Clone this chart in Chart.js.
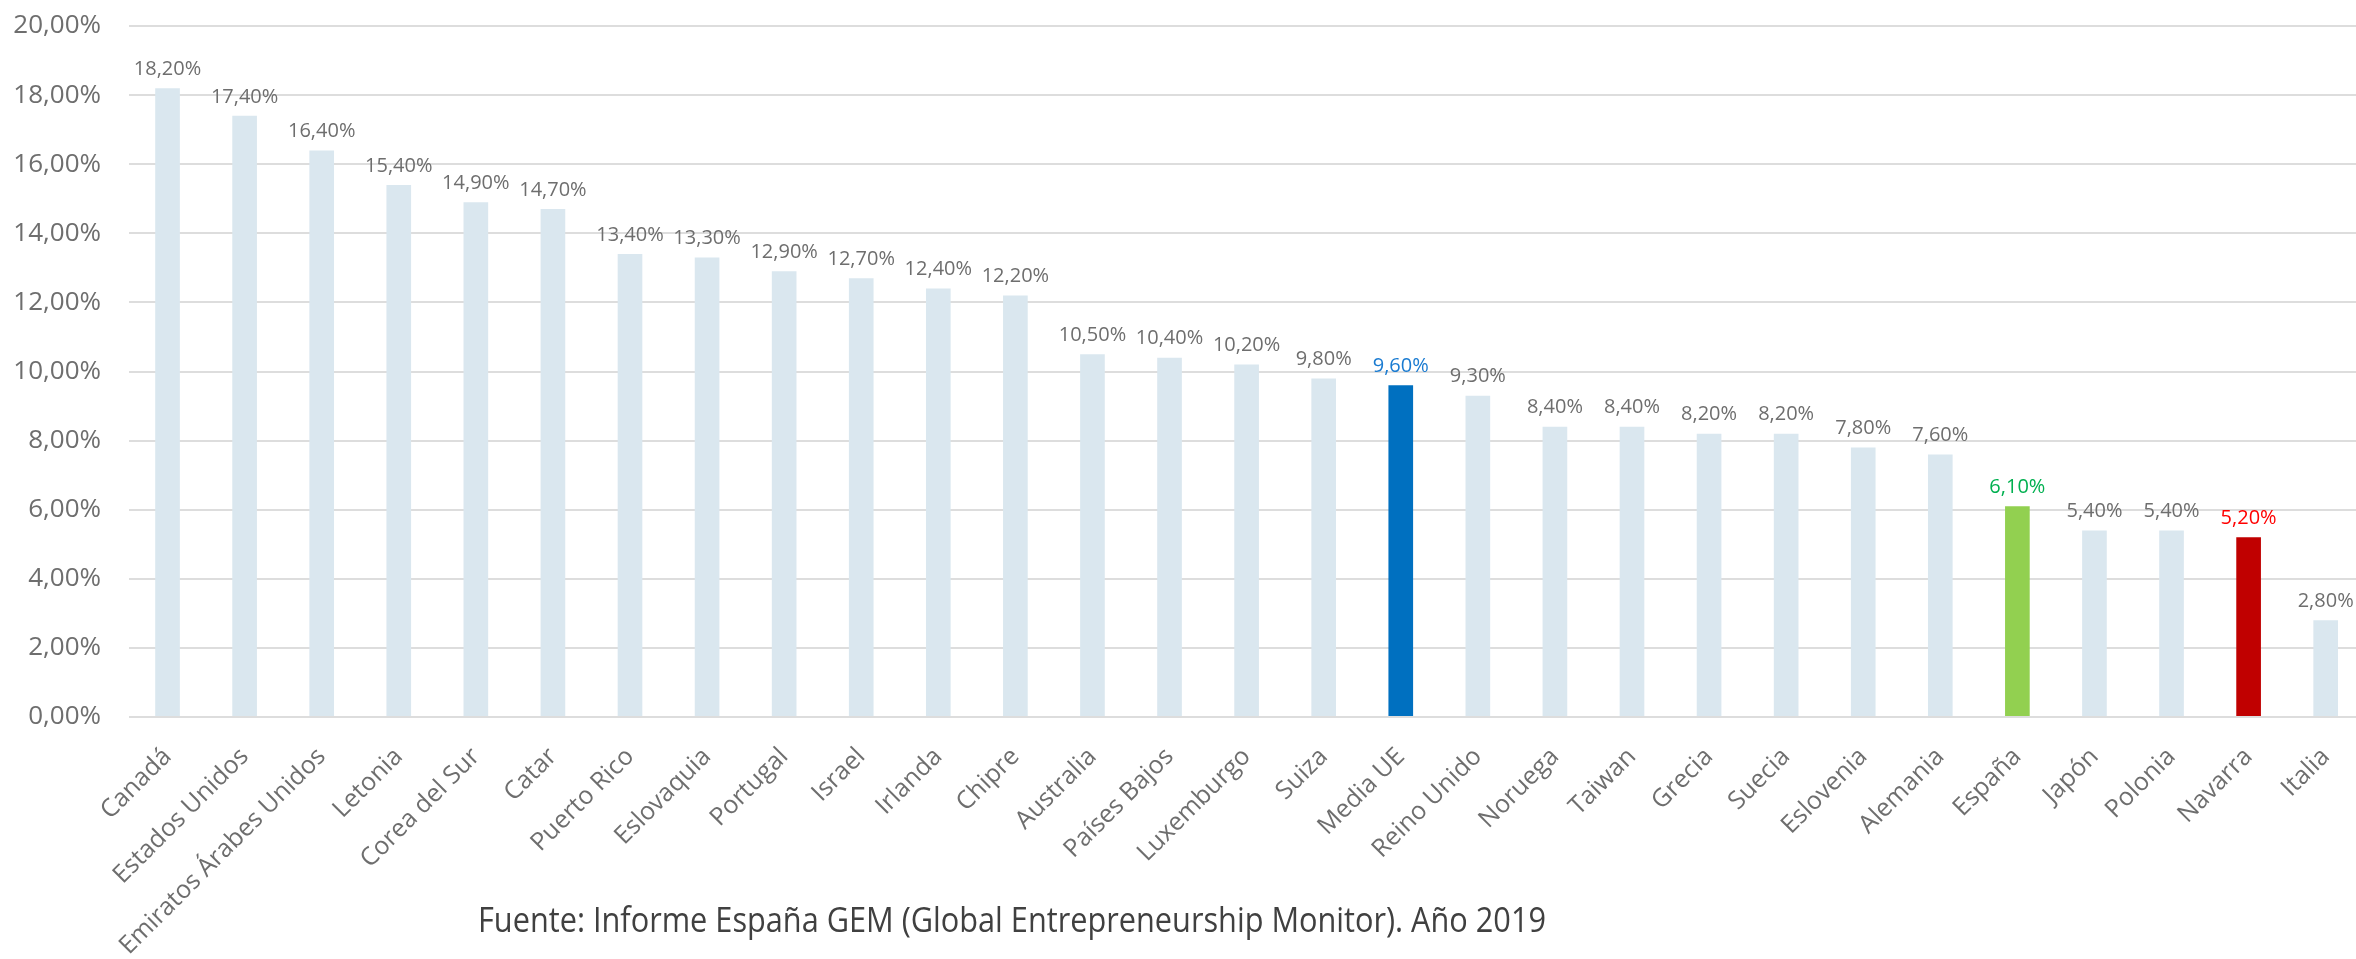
<!DOCTYPE html>
<html>
<head>
<meta charset="utf-8">
<script src="https://cdn.jsdelivr.net/npm/chart.js@4/dist/chart.umd.min.js"></script>
<style>
  html, body { margin: 0; padding: 0; background: #fff; overflow: hidden; }
  #wrap { position: relative; width: 2356px; height: 959px; overflow: hidden; }
</style>
</head>
<body>
<div id="wrap">
  <canvas id="gemChart" width="2372" height="959"></canvas>
</div>
<script>
// datos: tasa TEA por país (Informe GEM 2019)
const paises = ['Canadá', 'Estados Unidos', 'Emiratos Árabes Unidos', 'Letonia', 'Corea del Sur', 'Catar',
  'Puerto Rico', 'Eslovaquia', 'Portugal', 'Israel', 'Irlanda', 'Chipre', 'Australia', 'Países Bajos',
  'Luxemburgo', 'Suiza', 'Media UE', 'Reino Unido', 'Noruega', 'Taiwan', 'Grecia', 'Suecia', 'Eslovenia',
  'Alemania', 'España', 'Japón', 'Polonia', 'Navarra', 'Italia'];
const valores = [18.2, 17.4, 16.4, 15.4, 14.9, 14.7, 13.4, 13.3, 12.9, 12.7, 12.4, 12.2, 10.5, 10.4,
  10.2, 9.8, 9.6, 9.3, 8.4, 8.4, 8.2, 8.2, 7.8, 7.6, 6.1, 5.4, 5.4, 5.2, 2.8];
const ticksY = [0, 2, 4, 6, 8, 10, 12, 14, 16, 18, 20];

// colores destacados
const destacados = { 'Media UE': ['#0070C0', '#1A7BD1'], 'España': ['#92D050', '#00B050'], 'Navarra': ['#C00000', '#FF0000'] };
const colorBarra = paises.map(p => destacados[p] ? destacados[p][0] : '#DAE7EF');
const colorEtiqueta = paises.map(p => destacados[p] ? destacados[p][1] : '#6e6e6e');

const fmt = v => v.toFixed(2).replace('.', ',') + '%';

// etiquetas encima de cada barra
const etiquetasPlugin = {
  id: 'etiquetas',
  afterDatasetsDraw(chart) {
    const ctx = chart.ctx;
    const meta = chart.getDatasetMeta(0);
    ctx.save();
    ctx.font = '20px "Open Sans"';
    ctx.textAlign = 'center';
    ctx.textBaseline = 'bottom';
    meta.data.forEach((bar, i) => {
      ctx.fillStyle = colorEtiqueta[i];
      ctx.fillText(fmt(valores[i]), bar.x, bar.y - 9);
    });
    ctx.restore();
  }
};

// texto de la fuente
const fuentePlugin = {
  id: 'fuente',
  afterDraw(chart) {
    const ctx = chart.ctx;
    ctx.save();
    ctx.font = '34px "Open Sans"';
    ctx.fillStyle = '#404040';
    ctx.textAlign = 'left';
    ctx.textBaseline = 'alphabetic';
    ctx.fillText('Fuente: Informe España GEM (Global Entrepreneurship Monitor). Año 2019', 478, 932, 1068);
    ctx.restore();
  }
};

new Chart(document.getElementById('gemChart'), {
  type: 'bar',
  data: {
    labels: paises,
    datasets: [{
      data: valores,
      backgroundColor: colorBarra,
      borderWidth: 0,
      barPercentage: 0.32,
      categoryPercentage: 1
    }]
  },
  options: {
    responsive: false,
    animation: false,
    devicePixelRatio: 1,
    layout: { padding: { top: 26, right: 6, left: 0, bottom: 0 } },
    plugins: { legend: { display: false }, tooltip: { enabled: false } },
    scales: {
      y: {
        min: 0,
        max: 20,
        afterFit: s => { s.width = 129; s.paddingTop = 0; s.paddingBottom = 0; },
        afterBuildTicks: s => { s.ticks = ticksY.map(v => ({ value: v })); },
        border: { display: false },
        grid: { color: '#DDDDDD', lineWidth: 2, drawTicks: false },
        ticks: {
          padding: 28,
          color: '#6e6e6e',
          font: { family: 'Open Sans', size: 26 },
          callback: v => fmt(v)
        }
      },
      x: {
        afterFit: s => { s.height = 242; },
        border: { display: false },
        grid: { display: false, drawTicks: false },
        ticks: {
          autoSkip: false,
          maxRotation: 45,
          minRotation: 45,
          padding: 25,
          color: '#6e6e6e',
          font: { family: 'Open Sans', size: 25 }
        }
      }
    }
  },
  plugins: [etiquetasPlugin, fuentePlugin]
});
</script>
</body>
</html>
